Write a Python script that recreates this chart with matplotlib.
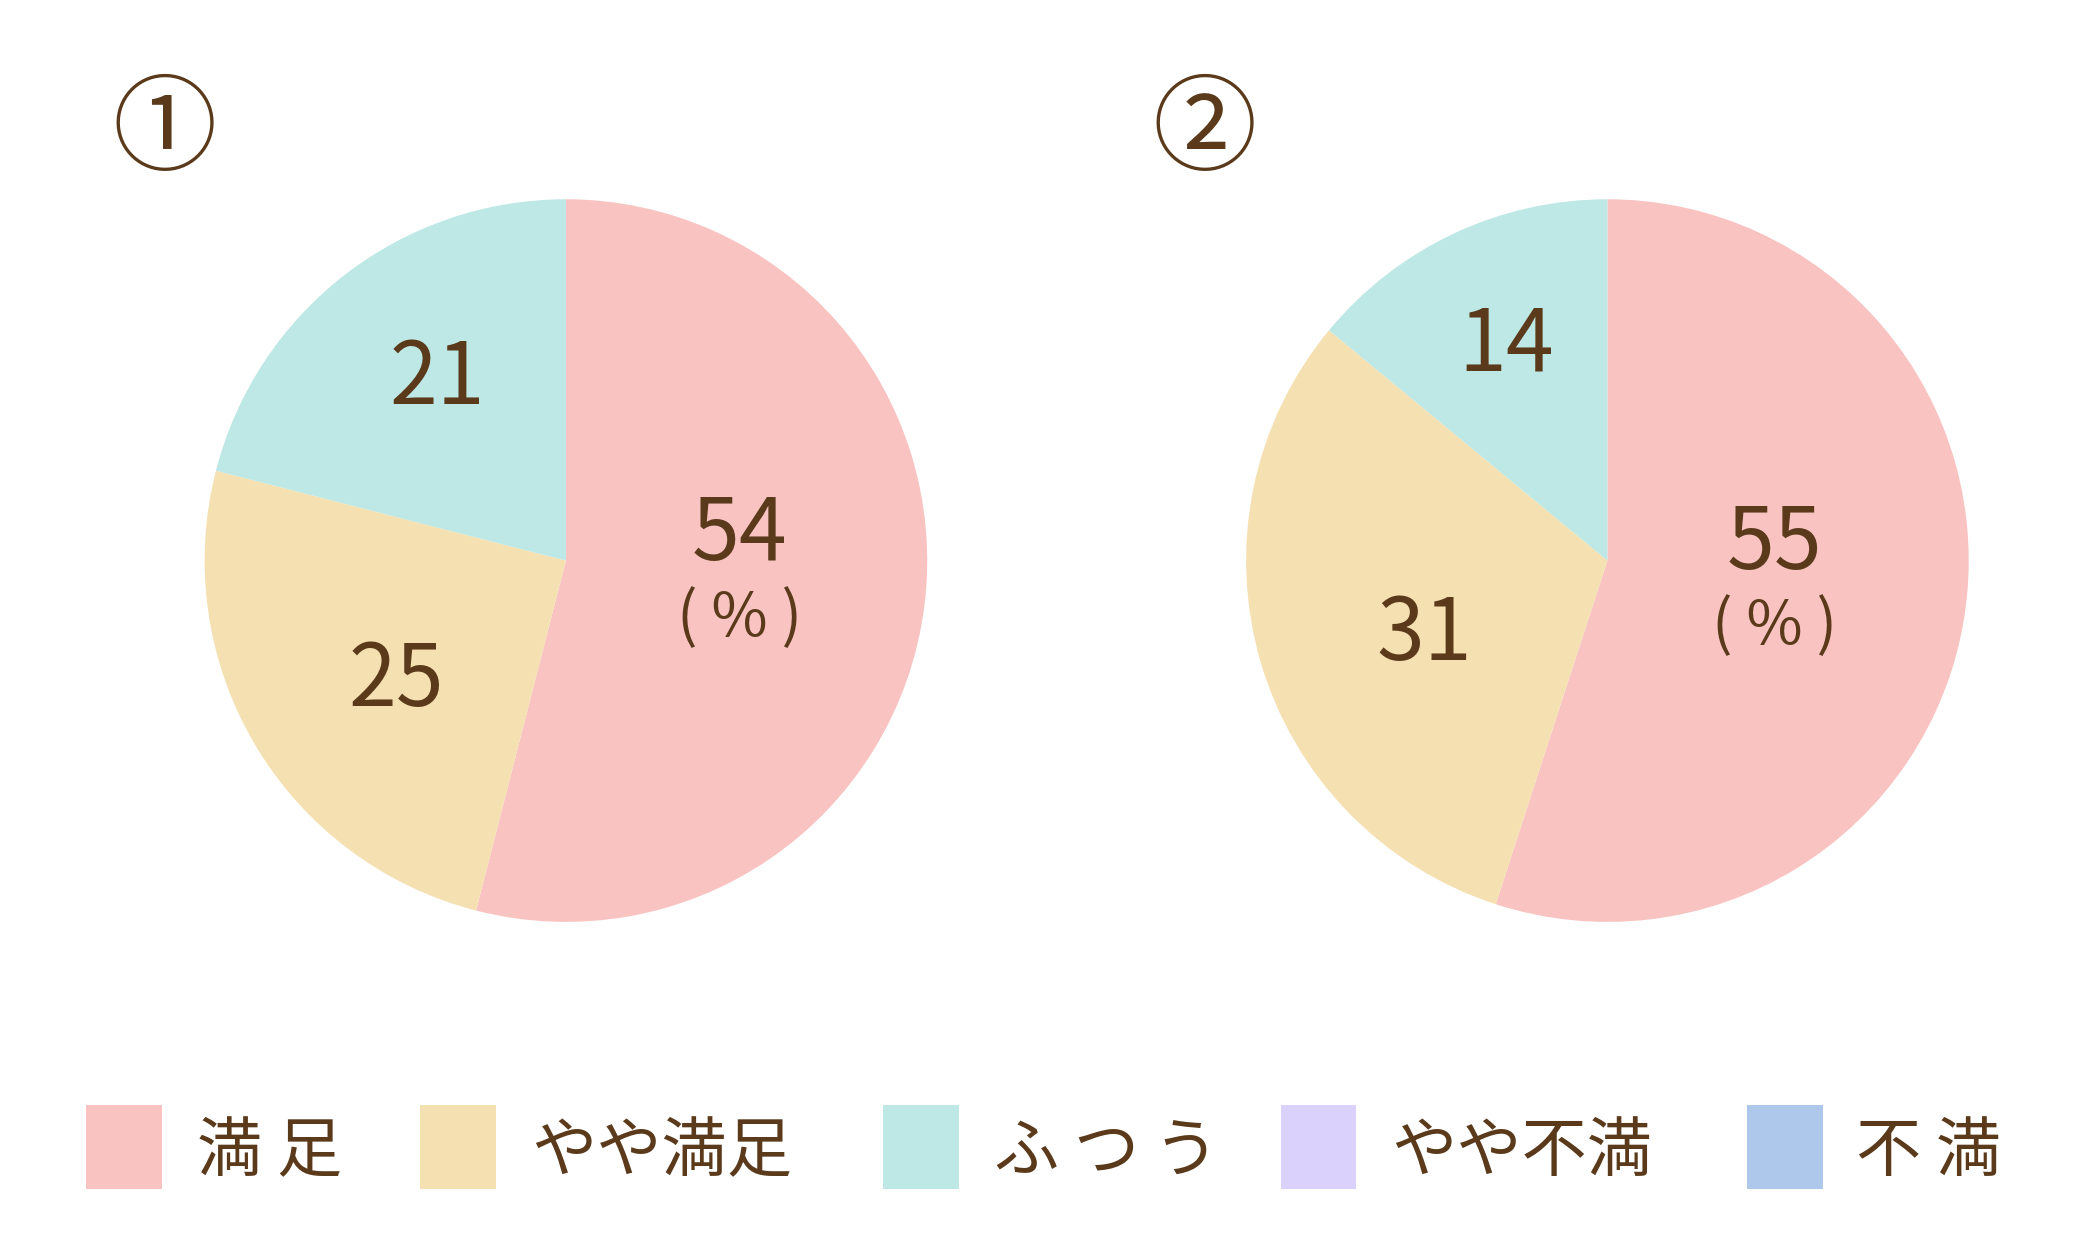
import matplotlib
matplotlib.use('Agg')
import matplotlib.pyplot as plt
from matplotlib.patches import Rectangle

plt.rcParams['font.family'] = ['Noto Sans CJK JP', 'DejaVu Sans']

# === DATA ===
CATEGORIES = ['満足', 'やや満足', 'ふつう', 'やや不満', '不満']
LEGEND_LABELS = ['満 足', 'やや満足', 'ふ つ う', 'やや不満', '不 満']
PIE_TITLES = ['①', '②']
VALUES_1 = [54, 25, 21, 0, 0]
VALUES_2 = [55, 31, 14, 0, 0]
# === END DATA ===

COLORS = ['#F8C3C1', '#F5E0B2', '#BEE8E5', '#DAD2FC', '#AEC8EC']
TEXT_COLOR = '#5A3A1A'

W, H = 1568, 941  # reference layout units
fig = plt.figure(figsize=(20.83, 12.5), dpi=100)

# label offsets inside each pie (radius = 1)
LABEL_POS_1 = [(0.48, 0.07), (-0.47, -0.336), (-0.357, 0.50)]
LABEL_POS_2 = [(0.463, 0.0425), (-0.507, -0.2075), (-0.279, 0.594)]
PCT_POS_1 = (0.48, -0.16)
PCT_POS_2 = (0.463, -0.182)

R = 272
pies = [
    (426, 422, VALUES_1, LABEL_POS_1, PCT_POS_1, PIE_TITLES[0], (124, 100)),
    (1210, 422, VALUES_2, LABEL_POS_2, PCT_POS_2, PIE_TITLES[1], (907, 100)),
]

for cx, cy, vals, lpos, ppos, title, tpos in pies:
    ax = fig.add_axes([(cx - R) / W, 1 - (cy + R) / H, 2 * R / W, 2 * R / H])
    nz = [v for v in vals if v > 0]
    cols = [COLORS[i] for i, v in enumerate(vals) if v > 0]
    ax.pie(nz, colors=cols, startangle=90, counterclock=False, radius=1,
           wedgeprops=dict(linewidth=0))
    ax.set_xlim(-1, 1)
    ax.set_ylim(-1, 1)
    ax.set_aspect('equal')
    ax.axis('off')
    for v, (x, y) in zip(nz, lpos):
        ax.text(x, y, str(v), ha='center', va='center', fontsize=62,
                color=TEXT_COLOR)
    ax.text(ppos[0], ppos[1], '( % )', ha='center', va='center', fontsize=44,
            color=TEXT_COLOR)
    fig.text(tpos[0] / W, 1 - tpos[1] / H, title, ha='center', va='center',
             fontsize=75, color=TEXT_COLOR)

# legend
SQ_X = [65, 316, 665, 964, 1315]
TXT_X = [148, 400, 748, 1047, 1397]
for i, lab in enumerate(LEGEND_LABELS):
    fig.patches.append(Rectangle((SQ_X[i] / W, 1 - 895 / H), 57 / W, 63 / H,
                                 transform=fig.transFigure, color=COLORS[i],
                                 linewidth=0))
    fig.text(TXT_X[i] / W, 1 - 868 / H, lab, ha='left', va='center',
             fontsize=47, color=TEXT_COLOR)

plt.savefig('out.png', dpi=100)
